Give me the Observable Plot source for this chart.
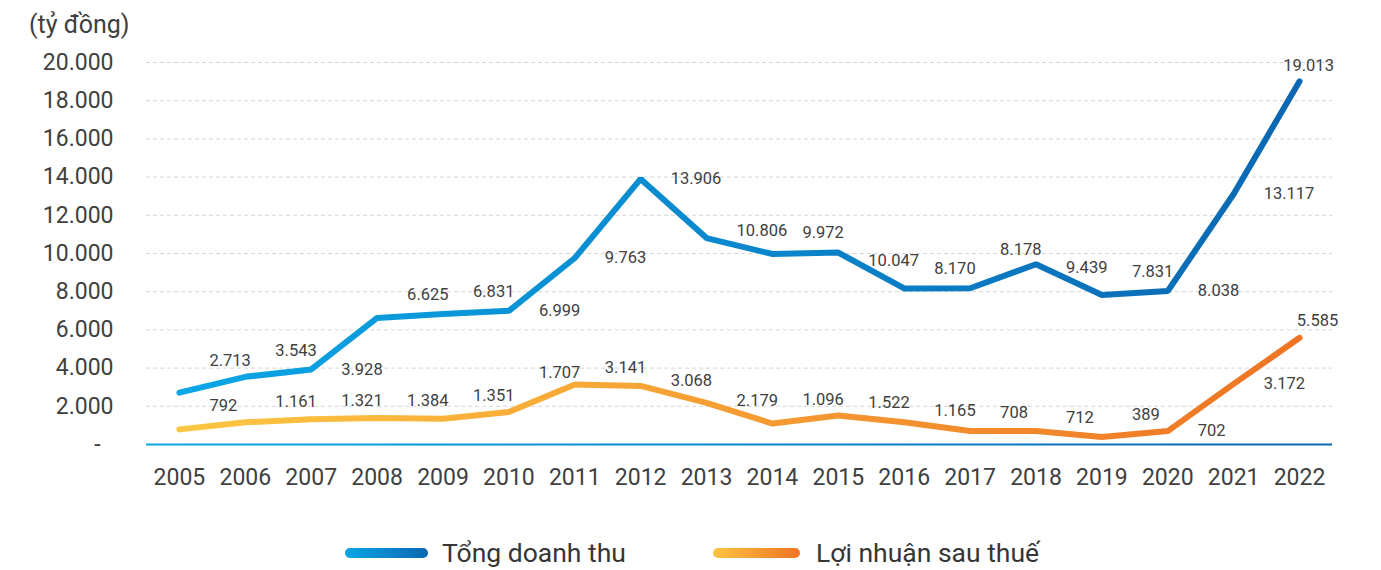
<!DOCTYPE html>
<html>
<head>
<meta charset="utf-8">
<script src="https://cdn.jsdelivr.net/npm/d3@7"></script>
<script src="https://cdn.jsdelivr.net/npm/@observablehq/plot@0.6"></script>
<style>
  html, body { margin: 0; padding: 0; background: #fff; }
  body { width: 1381px; height: 570px; position: relative; overflow: hidden; font-family: Roboto, "Noto Sans", sans-serif; color: #404040; }
  #unit { position: absolute; left: 29px; top: 11px; font-size: 25px; line-height: 28px; color: #404040; }
  #chart { position: absolute; left: 0; top: 40px; }
  #legend { position: absolute; left: 0; top: 538px; height: 30px; width: 1381px; }
  .sw { position: absolute; top: 10px; height: 10px; border-radius: 5px; }
  .lt { position: absolute; top: 0; height: 30px; line-height: 30px; font-size: 26.5px; color: #363636; white-space: nowrap; }
</style>
</head>
<body>
<div id="unit">(tỷ đồng)</div>
<div id="chart"></div>
<div id="legend">
  <span class="sw" style="left:345px;width:83px;background:linear-gradient(90deg,#0aa6e6,#0a67b2);"></span>
  <span class="lt" style="left:442px;">Tổng doanh thu</span>
  <span class="sw" style="left:713px;width:87px;background:linear-gradient(90deg,#fcc541,#ee7424);"></span>
  <span class="lt" style="left:816px;">Lợi nhuận sau thuế</span>
</div>
<script>
const years = [2005, 2006, 2007, 2008, 2009, 2010, 2011, 2012, 2013, 2014, 2015, 2016, 2017, 2018, 2019, 2020, 2021, 2022];
const revenue = [2713, 3543, 3928, 6625, 6831, 6999, 9763, 13906, 10806, 9972, 10047, 8170, 8178, 9439, 7831, 8038, 13117, 19013];
const profit = [792, 1161, 1321, 1384, 1351, 1707, 3141, 3068, 2179, 1096, 1522, 1165, 708, 712, 389, 702, 3172, 5585];
const yTicks = [0, 2000, 4000, 6000, 8000, 10000, 12000, 14000, 16000, 18000, 20000];

const vn = d3.formatLocale({decimal: ",", thousands: ".", grouping: [3], currency: ["", ""]});
const fmt = vn.format(",d");

const last = years.length - 1;
const rows = values => years.map((year, i) => ({year, value: values[i], i}));
const revRows = rows(revenue);
const proRows = rows(profit);

// Label placement: labels sit to the right of each point; where the following
// segment is steep they stay level with the point, otherwise they sit
// above the line where it passes under the label.
const LABEL_FRAC = 0.775;
function labelRows(values, aboveDy) {
  return years.slice(0, last).map((year, i) => {
    const rise = values[i + 1] - values[i];
    const steep = Math.abs(rise) > 2000;
    return {
      year,
      value: values[i],
      ly: steep ? values[i] : values[i] + LABEL_FRAC * rise,
      dy: steep ? 0 : aboveDy
    };
  });
}
const revLabels = labelRows(revenue, -20);
const proLabels = labelRows(profit, -18);

function gradientDefs(index, scales) {
  const x1 = scales.x(years[0]);
  const x2 = scales.x(years[last]);
  const defs = d3.create("svg:defs");
  const g1 = defs.append("linearGradient").attr("id", "gradRev")
    .attr("gradientUnits", "userSpaceOnUse").attr("x1", x1).attr("x2", x2).attr("y1", 0).attr("y2", 0);
  g1.append("stop").attr("offset", "0%").attr("stop-color", "#0aa6e6");
  g1.append("stop").attr("offset", "100%").attr("stop-color", "#0a67b2");
  const g2 = defs.append("linearGradient").attr("id", "gradPro")
    .attr("gradientUnits", "userSpaceOnUse").attr("x1", x1).attr("x2", x2).attr("y1", 0).attr("y2", 0);
  g2.append("stop").attr("offset", "0%").attr("stop-color", "#fdc642");
  g2.append("stop").attr("offset", "100%").attr("stop-color", "#ee7424");
  return defs.node();
}

const labelMarks = labels => [0, -20, -18].flatMap(dy =>
  labels.filter(d => d.dy === dy).length ? [Plot.text(labels.filter(d => d.dy === dy), {
    x: "year", y: "ly", text: d => fmt(d.value), textAnchor: "start", dx: 30, dy,
    fontSize: 16.5, fill: "#404040"
  })] : []);

const chart = Plot.plot({
  width: 1381,
  height: 465,
  marginLeft: 146,
  marginRight: 49,
  marginTop: 22,
  marginBottom: 61,
  style: {fontFamily: "Roboto, 'Noto Sans', sans-serif", color: "#404040", background: "transparent"},
  x: {type: "point", domain: years, padding: 0.5, round: false},
  y: {domain: [0, 20000]},
  marks: [
    gradientDefs,
    Plot.gridY(yTicks.filter(d => d > 0), {stroke: "#d6d6d6", strokeOpacity: 1, strokeDasharray: "4,3", strokeWidth: 1}),
    Plot.axisY(yTicks, {tickSize: 0, tickPadding: 33, fontSize: 23, fill: "#404040", label: null,
      tickFormat: d => d === 0 ? "-\u2007" : fmt(d)}),
    Plot.axisX(years, {tickSize: 0, tickPadding: 24, fontSize: 23, fill: "#404040", label: null,
      tickFormat: d => String(d)}),
    Plot.ruleY([0], {stroke: "url(#gradRev)", strokeWidth: 2}),
    Plot.line(proRows, {x: "year", y: "value", stroke: "url(#gradPro)", strokeWidth: 6, strokeLinecap: "round", strokeLinejoin: "miter"}),
    Plot.line(revRows, {x: "year", y: "value", stroke: "url(#gradRev)", strokeWidth: 6, strokeLinecap: "round", strokeLinejoin: "miter"}),
    ...labelMarks(revLabels),
    ...labelMarks(proLabels),
    Plot.text(revRows.filter(d => d.i === last), {x: "year", y: "value", text: d => fmt(d.value), textAnchor: "middle", dx: 9, dy: -16, fontSize: 16.5, fill: "#404040"}),
    Plot.text(proRows.filter(d => d.i === last), {x: "year", y: "value", text: d => fmt(d.value), textAnchor: "middle", dx: 18, dy: -17, fontSize: 16.5, fill: "#404040"})
  ]
});
document.getElementById("chart").appendChild(chart);
</script>
</body>
</html>
